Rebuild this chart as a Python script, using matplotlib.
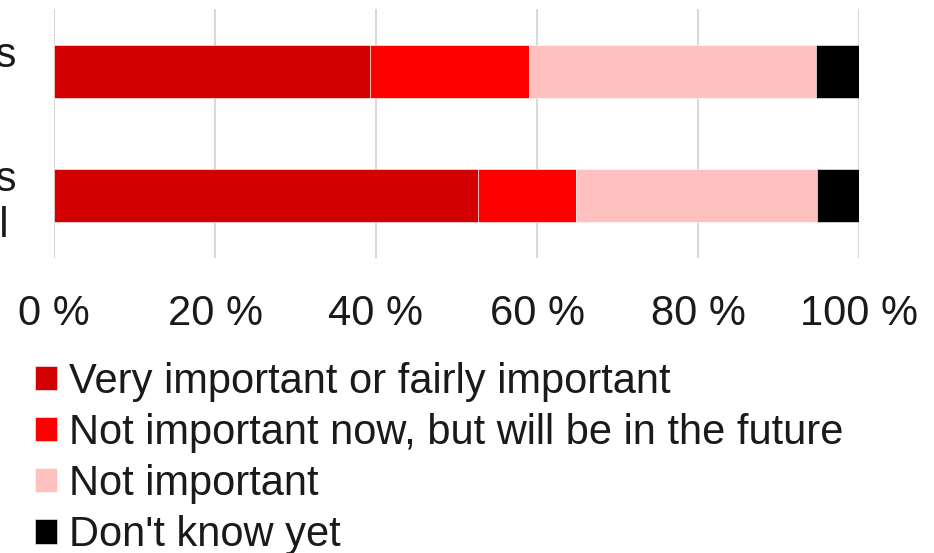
import numpy as np
import matplotlib.pyplot as plt

plt.rcParams['font.family'] = ['Liberation Sans', 'DejaVu Sans']

# bottom row first, top row second
categories = ["Sustainability for employees\nand the potential personnel",
              "Importance of sustainability to customers\nin the years ahead"]
series = ["Very important or fairly important",
          "Not important now, but will be in the future",
          "Not important",
          "Don't know yet"]
values = [
    [52.7, 39.3],
    [12.2, 19.7],
    [29.9, 35.7],
    [5.2, 5.3],
]
colors = ["#d20000", "#ff0000", "#ffc0c0", "#000000"]
ticks = [0, 20, 40, 60, 80, 100]
tick_labels = ["0 %", "20 %", "40 %", "60 %", "80 %", "100 %"]

fig = plt.figure(figsize=(9.34, 5.53), dpi=100)
ax = fig.add_axes([54 / 934, 1 - 258 / 553, 805 / 934, 249 / 553])

y = np.arange(len(categories))
left = np.zeros(len(categories))
handles = []
for name, vals, col in zip(series, values, colors):
    h = ax.barh(y, vals, left=left, height=0.424, color=col,
                edgecolor="white", linewidth=0.4, label=name, zorder=3)
    handles.append(h)
    left += np.array(vals)

ax.set_xlim(0, 100)
ax.set_ylim(-0.5, 1.5)
ax.set_xticks(ticks)
ax.set_xticklabels(tick_labels)
ax.set_yticks(y)
ax.set_yticklabels(categories, multialignment="center")
ax.grid(axis="x", color="#d9d9d9", linewidth=1.5, zorder=0)
for s in ax.spines.values():
    s.set_visible(False)
ax.tick_params(axis="x", length=0, pad=26, labelsize=30, labelcolor="#1a1a1a")
ax.tick_params(axis="y", length=0, pad=27, labelsize=30, labelcolor="#1a1a1a")

fig.legend(handles=handles, loc="upper left", bbox_to_anchor=(35 / 934, 1 - 362 / 553),
           frameon=False, fontsize=30, handlelength=0.52, handleheight=0.52,
           handletextpad=0.3, labelspacing=0.265, borderpad=0, borderaxespad=0,
           labelcolor="#1a1a1a")

fig.savefig("out.png", dpi=100)
